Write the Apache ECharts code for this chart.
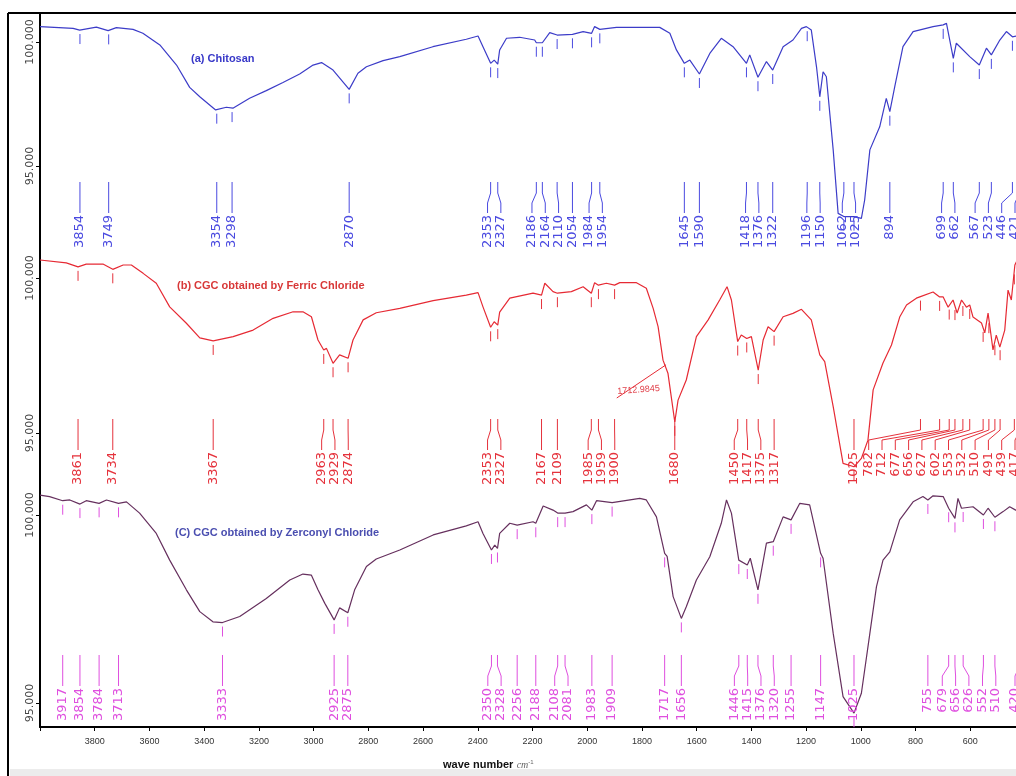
<!DOCTYPE html>
<html><head><meta charset="utf-8">
<script src="https://cdn.jsdelivr.net/npm/echarts@6/dist/echarts.min.js"></script>
<style>html,body{margin:0;padding:0;background:#fff}#c{width:1016px;height:776px}</style>
</head><body><div id="c"></div>
<script>
// ---- data (wave number cm-1, transmittance %) ----
const wnA = [4000,3879,3855,3794,3751,3721,3660,3624,3562,3501,3453,3416,3358,3319,3295,3234,3173,3112,3051,3002,2971,2929,2870,2838,2807,2746,2685,2564,2442,2399,2381,2353,2340,2327,2320,2295,2247,2192,2186,2164,2137,2110,2054,2015,1984,1973,1954,1893,1735,1698,1674,1645,1625,1590,1552,1510,1467,1418,1406,1376,1345,1322,1284,1248,1217,1199,1181,1162,1150,1138,1126,1101,1083,1062,1041,1025,998,986,967,931,907,894,876,846,809,736,699,687,662,651,602,567,541,523,492,468,446,400];
const tA = [100.62,100.55,100.48,100.60,100.46,100.58,100.51,100.35,99.88,99.07,98.17,97.79,97.26,97.37,97.33,97.73,98.04,98.37,98.71,99.07,99.17,98.87,98.09,98.74,99.00,99.25,99.41,99.81,100.11,100.24,99.81,99.14,99.27,99.11,99.68,100.15,100.19,100.08,99.97,99.97,100.38,100.28,100.31,100.42,100.35,100.62,100.51,100.59,100.59,100.35,99.68,99.14,99.27,98.71,99.54,100.15,99.81,99.14,99.48,98.58,99.21,98.87,99.81,100.08,100.55,100.62,100.48,99.00,97.79,98.80,98.60,95.65,93.09,92.96,92.96,92.96,92.89,93.63,95.65,96.58,97.73,97.19,98.20,99.81,100.42,100.62,100.69,100.75,99.34,99.95,99.41,99.07,99.75,99.48,100.08,100.42,100.21,100.30];
const peaksA = [3854,3749,3354,3298,2870,2353,2327,2186,2164,2110,2054,1984,1954,1645,1590,1418,1376,1322,1196,1150,1062,1025,894,699,662,567,523,446,421];

const wnB = [4000,3904,3861,3831,3770,3734,3696,3666,3623,3575,3526,3465,3416,3367,3294,3221,3148,3075,3039,3008,2984,2963,2953,2929,2905,2874,2856,2819,2771,2685,2563,2442,2399,2381,2353,2340,2327,2320,2283,2198,2167,2155,2125,2109,2058,2015,1985,1973,1959,1930,1900,1881,1820,1784,1759,1741,1723,1705,1680,1668,1638,1601,1558,1516,1489,1473,1450,1437,1417,1400,1375,1357,1339,1317,1284,1248,1217,1181,1150,1132,1101,1065,1025,998,974,955,919,888,858,833,797,782,736,712,699,681,663,648,632,614,602,590,559,547,535,517,505,492,474,462,450,437,420,400];
const tB = [100.58,100.49,100.36,100.45,100.45,100.28,100.42,100.42,100.15,99.83,99.07,98.54,98.07,97.97,98.11,98.32,98.70,98.91,98.91,98.75,98.00,97.68,97.73,97.25,97.52,97.41,98.00,98.65,98.88,99.02,99.27,99.45,99.53,99.07,98.41,98.59,98.48,98.90,99.35,99.51,99.45,99.83,99.56,99.51,99.56,99.72,99.51,99.85,99.77,99.83,99.77,99.85,99.85,99.67,99.02,98.43,97.35,96.93,95.36,96.06,96.71,98.11,98.65,99.29,99.72,99.29,97.95,98.16,98.05,98.11,97.03,98.00,98.43,98.27,98.75,98.86,98.99,98.65,97.52,97.30,95.85,94.02,93.91,94.18,94.77,96.39,97.26,97.84,98.74,99.13,99.35,99.40,99.55,99.39,99.39,99.06,99.29,98.87,99.29,99.06,99.13,98.74,98.55,98.23,98.87,97.68,98.16,97.77,98.32,99.61,99.29,100.42,100.74,100.80];
const peaksB = [3861,3734,3367,2963,2929,2874,2353,2327,2167,2109,1985,1959,1900,1680,1450,1417,1375,1317,1025,782,712,677,656,627,602,553,532,510,491,439,417];

const wnC = [4000,3965,3917,3891,3854,3831,3784,3757,3713,3684,3636,3575,3526,3465,3416,3368,3333,3270,3173,3087,3039,3008,2984,2959,2925,2905,2875,2850,2807,2771,2685,2563,2442,2399,2381,2350,2338,2328,2320,2283,2256,2198,2188,2161,2125,2108,2081,2052,2003,1983,1966,1909,1808,1784,1747,1717,1708,1686,1656,1638,1601,1552,1510,1491,1473,1446,1415,1404,1376,1345,1320,1284,1255,1223,1187,1147,1138,1101,1065,1025,998,967,943,919,894,858,809,773,755,736,699,679,656,645,632,590,552,535,510,480,456,434,400];
const tC = [100.53,100.49,100.38,100.40,100.29,100.38,100.31,100.40,100.31,100.35,100.05,99.51,98.80,98.01,97.43,97.16,97.14,97.30,97.78,98.27,98.43,98.40,98.01,97.65,97.21,97.53,97.40,98.01,98.63,98.83,99.07,99.47,99.71,99.82,99.51,99.07,99.20,99.11,99.51,99.78,99.73,99.82,99.78,100.24,100.13,100.05,100.05,100.09,100.27,100.13,100.38,100.33,100.44,100.40,99.95,98.98,98.90,97.83,97.25,97.56,98.27,98.89,99.78,100.40,100.05,98.80,98.67,98.85,98.01,99.25,99.29,99.95,99.87,100.31,100.27,98.98,98.85,96.85,95.17,94.73,95.26,96.85,98.09,98.80,99.02,99.87,100.35,100.49,100.40,100.51,100.49,100.18,99.91,100.44,100.18,100.22,100.00,100.18,99.94,100.09,100.22,100.13,100.15];
const peaksC = [3917,3854,3784,3713,3333,2925,2875,2350,2328,2256,2188,2108,2081,1983,1909,1717,1656,1446,1415,1376,1320,1255,1147,1025,755,679,656,626,552,510,420];

const titles = ['(a) Chitosan', '(b) CGC obtained by Ferric Chloride', '(C) CGC obtained by Zerconyl Chloride'];
const yTickValues = [95, 100];
const annotationText = '1712.9845';

// ---- presentation ----
const panels = [
  {wn: wnA, t: tA, peaks: peaksA, line: '#3c3cc8', lab: '#4a4ae0', title: '#3838c8'},
  {wn: wnB, t: tB, peaks: peaksB, line: '#e62a34', lab: '#e5323c', title: '#d83838'},
  {wn: wnC, t: tC, peaks: peaksC, line: '#66305e', lab: '#df4fdf', title: '#4a4eb0'}
];
const gridBox = [{top: 13, height: 235}, {top: 248, height: 240}, {top: 488, height: 239}];
const yRange = [[91.694, 101.169], [93.226, 100.968], [94.362, 100.718]];
const labelOff = [33, 36, 39];
const titlePos = [[191, 53], [177, 280], [175, 527]];

function interp(wn, t, w) {
  for (let i = 0; i < wn.length - 1; i++) {
    if (w <= wn[i] && w >= wn[i + 1]) {
      const f = (wn[i] - w) / (wn[i] - wn[i + 1]);
      return t[i] + f * (t[i + 1] - t[i]);
    }
  }
  return t[t.length - 1];
}

function spread(xs, gap, lo, hi) {
  let groups = xs.map((x, i) => ({s: i, n: 1, sum: x, pos: x}));
  const place = g => {
    let p = g.sum / g.n - (g.n - 1) * gap / 2;
    p = Math.min(p, hi - (g.n - 1) * gap);
    p = Math.max(p, lo);
    g.pos = p;
  };
  groups.forEach(place);
  let changed = true;
  while (changed) {
    changed = false;
    for (let i = 0; i < groups.length - 1; i++) {
      const a = groups[i], b = groups[i + 1];
      if (a.pos + a.n * gap > b.pos + 0.01) {
        a.n += b.n; a.sum += b.sum; place(a);
        groups.splice(i + 1, 1); changed = true; break;
      }
    }
  }
  const out = [];
  groups.forEach(g => { for (let k = 0; k < g.n; k++) out[g.s + k] = g.pos + k * gap; });
  return out;
}

function labelSeries(p, i) {
  return {
    type: 'custom', xAxisIndex: i, yAxisIndex: i, silent: true, animation: false, z: 4, clip: false,
    data: p.peaks.map(w => [w, interp(p.wn, p.t, w)]),
    encode: {x: 0, y: 1},
    renderItem(params, api) {
      const cs = params.coordSys;
      const bottom = cs.y + cs.height;
      const tt = bottom - labelOff[i];
      const nat = p.peaks.map(w => api.coord([w, 100])[0]);
      const pos = spread(nat, 13.3, cs.x, 1015);
      const k = params.dataIndex;
      const w = api.value(0);
      const pt = api.coord([w, api.value(1)]);
      const px = nat[k], lx = pos[k];
      return {
        type: 'group',
        children: [
          {type: 'line', shape: {x1: px, y1: pt[1] + 4, x2: px, y2: pt[1] + 14}, style: {stroke: p.lab, lineWidth: 1}},
          {type: 'polyline', shape: {points: [[px, tt - 33], [px, tt - 22], [lx, tt - 12], [lx, tt - 2]]}, style: {stroke: p.lab, fill: null, lineWidth: 1}},
          {type: 'text', x: lx, y: tt, rotation: Math.PI / 2,
           style: {text: String(w), fill: p.lab, fontSize: 13, fontFamily: 'DejaVu Sans', align: 'right', verticalAlign: 'middle'}}
        ]
      };
    }
  };
}

const chart = echarts.init(document.getElementById('c'), null, {renderer: 'canvas'});
const option = {
  animation: false,
  backgroundColor: '#ffffff',
  title: titles.map((t, i) => ({
    text: t, left: titlePos[i][0], top: titlePos[i][1], padding: 0,
    textStyle: {color: panels[i].title, fontSize: 11, fontWeight: 'bold', fontFamily: 'Liberation Sans'}
  })),
  grid: gridBox.map(g => ({left: 40, width: 985, top: g.top, height: g.height, outerBoundsMode: 'none', containLabel: false})),
  xAxis: panels.map((p, i) => ({
    gridIndex: i, type: 'value', inverse: true, min: 400, max: 4000, interval: 200,
    show: i === 2,
    axisLine: {onZero: false, lineStyle: {color: '#000', width: 2}},
    axisTick: {length: 4, lineStyle: {color: '#000'}},
    axisLabel: {fontSize: 9, color: '#333', margin: 10, fontFamily: 'Liberation Sans',
      formatter: v => (v === 4000 ? '' : String(v))},
    splitLine: {show: false}
  })),
  yAxis: panels.map((p, i) => ({
    gridIndex: i, type: 'value', min: yRange[i][0], max: yRange[i][1],
    axisLine: {show: true, lineStyle: {color: '#000', width: 2}},
    axisTick: {show: true, customValues: yTickValues, length: 4, lineStyle: {color: '#000'}},
    axisLabel: {customValues: yTickValues, rotate: 90, formatter: v => v.toFixed(3),
      fontSize: 11, fontFamily: 'DejaVu Sans', color: '#444', margin: 4},
    splitLine: {show: false}
  })),
  series: panels.map((p, i) => {
    const s = {
      type: 'line', xAxisIndex: i, yAxisIndex: i, symbol: 'none', animation: false, z: 3,
      lineStyle: {color: p.line, width: 1.2},
      data: p.wn.map((w, k) => [w, p.t[k]])
    };
    if (i === 1) {
      s.markLine = {
        silent: true, animation: false, symbol: ['none', 'arrow'], symbolSize: [0, 9],
        lineStyle: {color: '#e62a34', width: 1, type: 'solid'}, label: {show: false},
        data: [[{coord: [1892, 96.13]}, {coord: [1712, 97.2]}]]
      };
      s.markPoint = {
        silent: true, animation: false, symbol: 'circle', symbolSize: 1,
        itemStyle: {color: 'rgba(0,0,0,0)'},
        label: {show: true, formatter: annotationText, color: '#e0404a', fontSize: 9, rotate: 4,
          position: 'inside', fontFamily: 'Liberation Sans'},
        data: [{coord: [1812, 96.39]}]
      };
    }
    return s;
  }).concat(panels.map((p, i) => labelSeries(p, i))),
  graphic: [
    {type: 'rect', shape: {x: 10, y: 769, width: 1006, height: 7}, style: {fill: '#ececec'}, z: -1},
    {type: 'line', shape: {x1: 8, y1: 13, x2: 1016, y2: 13}, style: {stroke: '#000', lineWidth: 2}},
    {type: 'line', shape: {x1: 8, y1: 13, x2: 8, y2: 776}, style: {stroke: '#000', lineWidth: 2}},
    {type: 'text', x: 443, y: 765,
     style: {text: '{b|wave number} {i|cm}{s|-1}', verticalAlign: 'middle',
       rich: {b: {fontSize: 11, fontWeight: 'bold', fontFamily: 'Liberation Sans', fill: '#111'},
              i: {fontSize: 10, fontStyle: 'italic', fontFamily: 'Liberation Serif', fill: '#666'},
              s: {fontSize: 6, fontFamily: 'Liberation Sans', fill: '#666', verticalAlign: 'top', padding: [0, 0, 6, 0]}}}}
  ]
};
chart.setOption(option);
</script>
</body></html>
